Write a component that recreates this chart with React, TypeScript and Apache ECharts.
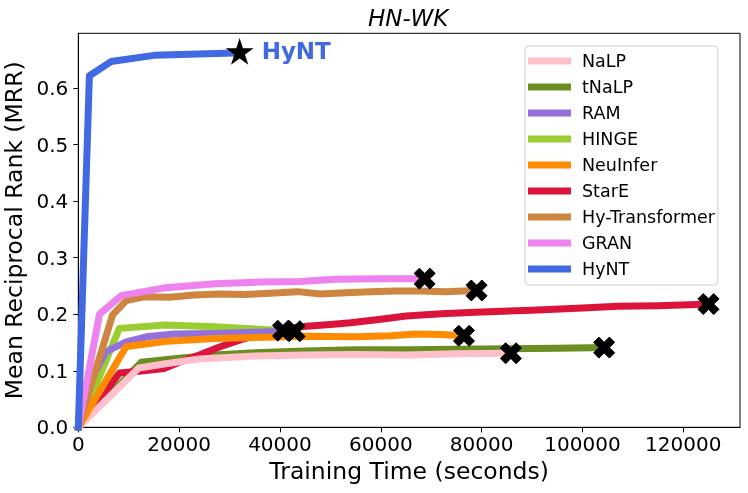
import React, { useEffect, useRef } from "react";
import * as echarts from "echarts";

const FONT = "DejaVu Sans";

const legendNames = ["NaLP", "tNaLP", "RAM", "HINGE", "NeuInfer", "StarE", "Hy-Transformer", "GRAN", "HyNT"];
const xTicks = [0, 20000, 40000, 60000, 80000, 100000, 120000];
const yTicks = [0, 0.1, 0.2, 0.3, 0.4, 0.5, 0.6];

const nalp = [[0, 0], [12000, 0.105], [17000, 0.112], [24000, 0.121], [35000, 0.126], [45000, 0.128], [55000, 0.129], [65000, 0.128], [75000, 0.13], [85800, 0.131]];
const tnalp = [[0, 0], [12500, 0.115], [20000, 0.122], [27000, 0.128], [35000, 0.132], [45000, 0.135], [55000, 0.137], [65000, 0.137], [75000, 0.138], [85000, 0.139], [95000, 0.14], [104300, 0.141]];
const ram = [[0, 0], [2500, 0.084], [5500, 0.134], [9500, 0.151], [13500, 0.16], [19000, 0.165], [27000, 0.166], [35000, 0.168], [42900, 0.17]];
const hinge = [[0, 0], [8150, 0.175], [17200, 0.181], [27000, 0.178], [40600, 0.171]];
const neuinfer = [[0, 0], [9500, 0.143], [17500, 0.152], [27000, 0.157], [35000, 0.159], [45000, 0.161], [55000, 0.16], [62000, 0.162], [67000, 0.165], [72000, 0.164], [76500, 0.162]];
const stare = [[0, 0], [8150, 0.096], [12000, 0.099], [17000, 0.104], [20000, 0.115], [24000, 0.128], [28000, 0.142], [33000, 0.157], [38000, 0.17], [44000, 0.178], [50000, 0.182], [54000, 0.185], [60000, 0.191], [65000, 0.197], [72000, 0.201], [80000, 0.204], [90000, 0.207], [100000, 0.211], [107000, 0.214], [115000, 0.215], [125000, 0.218]];
const hyTransformer = [[0, 0], [6800, 0.199], [9500, 0.224], [13000, 0.231], [18000, 0.23], [23000, 0.234], [28000, 0.236], [33000, 0.235], [38000, 0.237], [43500, 0.24], [48000, 0.236], [53000, 0.238], [58000, 0.24], [63000, 0.241], [68000, 0.241], [73000, 0.24], [79000, 0.242]];
const gran = [[0, 0], [4200, 0.2], [8500, 0.233], [17400, 0.247], [27000, 0.254], [36000, 0.257], [44000, 0.258], [51000, 0.262], [60000, 0.263], [68700, 0.263]];
const hynt = [[0, 0], [2200, 0.622], [6500, 0.647], [15000, 0.658], [32000, 0.6625]];

const colors: Record<string, string> = {
  NaLP: "#FFC0CB",
  tNaLP: "#6B8E23",
  RAM: "#9370DB",
  HINGE: "#9ACD32",
  NeuInfer: "#FF8C00",
  StarE: "#DC143C",
  "Hy-Transformer": "#CD853F",
  GRAN: "#EE82EE",
  HyNT: "#4169E1",
};

const seriesData: Record<string, number[][]> = {
  NaLP: nalp,
  tNaLP: tnalp,
  RAM: ram,
  HINGE: hinge,
  NeuInfer: neuinfer,
  StarE: stare,
  "Hy-Transformer": hyTransformer,
  GRAN: gran,
  HyNT: hynt,
};

// drawing order (bottom to top)
const drawOrder = ["tNaLP", "StarE", "NaLP", "HINGE", "RAM", "NeuInfer", "Hy-Transformer", "GRAN", "HyNT"];
const crossed = ["NaLP", "tNaLP", "RAM", "HINGE", "NeuInfer", "StarE", "Hy-Transformer", "GRAN"];

const CROSS = "path://M3,2 L4,3 L3,4 L2,3 L1,4 L0,3 L1,2 L0,1 L1,0 L2,1 L3,0 L4,1 Z";
const STAR = "path://M10,0 L12.245,6.91 L19.51,6.91 L13.63,11.18 L15.88,18.09 L10,13.82 L4.12,18.09 L6.37,11.18 L0.49,6.91 L7.755,6.91 Z";

export default function App() {
  const ref = useRef<HTMLDivElement>(null);
  useEffect(() => {
    if (!ref.current) return;
    const chart = echarts.init(ref.current, null, { renderer: "svg" });
    const lines = drawOrder.map((name) => ({
      name,
      type: "line",
      data: seriesData[name],
      symbol: "none",
      color: colors[name],
      lineStyle: { width: 7, color: colors[name], cap: "square", join: "round" },
      itemStyle: { color: colors[name] },
      emphasis: { disabled: true },
      z: 2,
    }));
    const ends = crossed.map((n) => seriesData[n][seriesData[n].length - 1]);
    const hyntEnd = hynt[hynt.length - 1];
    chart.setOption({
      animation: false,
      title: {
        text: "HN-WK",
        left: 368,
        top: 6,
        padding: 0,
        textStyle: { fontFamily: FONT, fontSize: 23, fontStyle: "italic", fontWeight: "normal", color: "#000", lineHeight: 23 },
      },
      grid: { left: 78.3, right: 8, top: 33.3, bottom: 65.7, show: true, borderColor: "#000", borderWidth: 1, backgroundColor: "transparent", outerBoundsMode: "none" },
      legend: {
        data: legendNames,
        orient: "vertical",
        left: 525,
        top: 46,
        icon: "rect",
        itemWidth: 43,
        itemHeight: 7,
        itemGap: 8,
        padding: [6, 3, 7, 3],
        backgroundColor: "rgba(255,255,255,0.8)",
        borderColor: "#cccccc",
        borderWidth: 1,
        borderRadius: 4,
        selectedMode: false,
        textStyle: { fontFamily: FONT, fontSize: 17.5, color: "#000", lineHeight: 18, padding: [0, 0, 0, 6] },
      },
      xAxis: {
        type: "value",
        min: 0,
        max: 131250,
        interval: 20000,
        axisLine: { show: true, lineStyle: { color: "#000", width: 1 } },
        axisTick: { show: true, length: 5, lineStyle: { color: "#000" }, customValues: xTicks },
        axisLabel: { customValues: xTicks, fontFamily: FONT, fontSize: 20, color: "#000", margin: 7, formatter: (v: number) => String(Math.round(v)) },
        splitLine: { show: false },
        name: "Training Time (seconds)",
        nameLocation: "middle",
        nameGap: 30,
        nameTextStyle: { fontFamily: FONT, fontSize: 23.5, color: "#000", lineHeight: 23.5 },
      },
      yAxis: {
        type: "value",
        min: 0,
        max: 0.697,
        interval: 0.1,
        axisLine: { show: true, lineStyle: { color: "#000", width: 1 } },
        axisTick: { show: true, length: 5, lineStyle: { color: "#000" }, customValues: yTicks },
        axisLabel: { customValues: yTicks, fontFamily: FONT, fontSize: 20, color: "#000", margin: 10, formatter: (v: number) => v.toFixed(1) },
        splitLine: { show: false },
        name: "Mean Reciprocal Rank (MRR)",
        nameLocation: "middle",
        nameGap: 46,
        nameTextStyle: { fontFamily: FONT, fontSize: 23.5, color: "#000", lineHeight: 23.5 },
      },
      series: [
        ...lines,
        {
          name: "ends",
          type: "scatter",
          data: ends,
          symbol: CROSS,
          symbolSize: 21,
          itemStyle: { color: "#000", borderColor: "#000", borderWidth: 1, opacity: 1 },
          emphasis: { disabled: true },
          z: 5,
        },
        {
          name: "best",
          type: "scatter",
          data: [hyntEnd],
          symbol: STAR,
          symbolSize: [28, 26.7],
          symbolOffset: [0, -1.4],
          itemStyle: { color: "#000", opacity: 1 },
          label: {
            show: true,
            position: "right",
            distance: 8,
            formatter: "HyNT",
            fontFamily: FONT,
            fontSize: 23,
            fontWeight: "bold",
            color: "#4169E1",
          },
          emphasis: { disabled: true },
          z: 6,
        },
      ],
    });
    return () => chart.dispose();
  }, []);
  return <div ref={ref} style={{ position: "fixed", left: 0, top: 0, width: 748, height: 493 }} />;
}
